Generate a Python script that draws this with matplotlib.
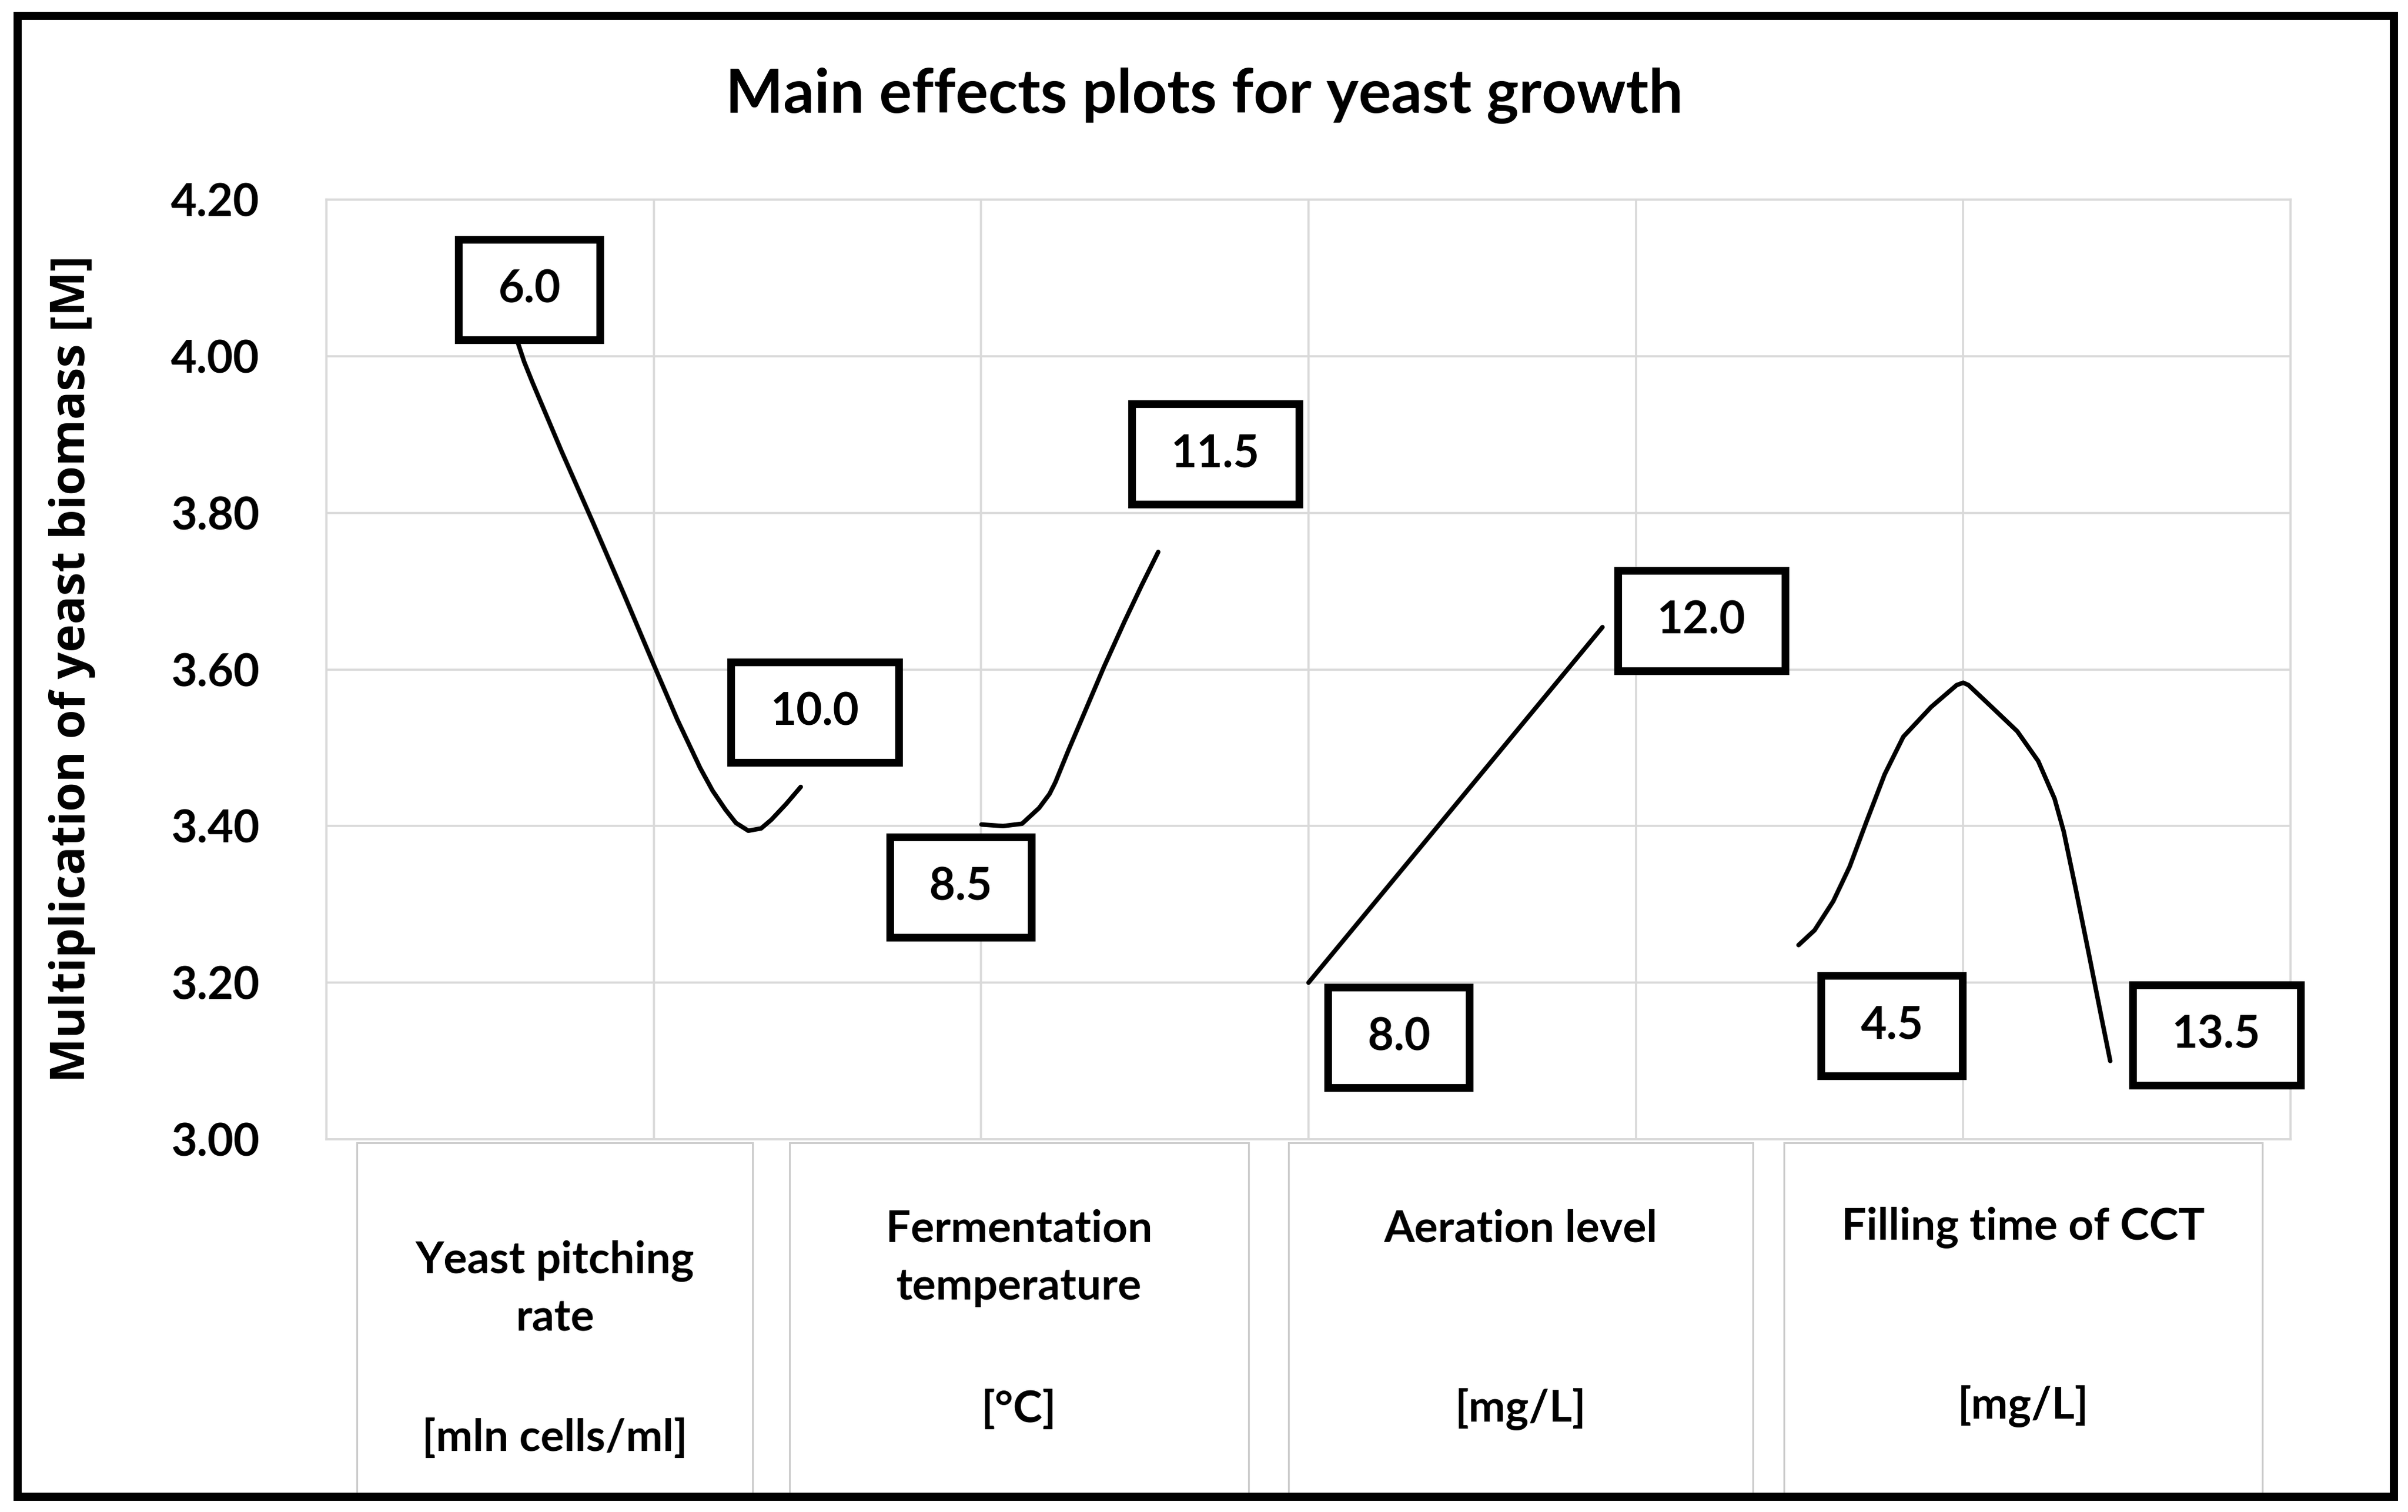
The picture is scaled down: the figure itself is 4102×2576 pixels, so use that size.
import matplotlib
matplotlib.use("Agg")
import matplotlib.pyplot as plt
from matplotlib.patches import Rectangle
from matplotlib.path import Path

# ---- data ----
pitch_x = [0.585, 0.604, 0.629, 0.719, 0.816, 0.911, 1.000, 1.072, 1.142, 1.180,
           1.219, 1.251, 1.289, 1.328, 1.359, 1.404, 1.449]
pitch_y = [4.017, 3.993, 3.967, 3.878, 3.786, 3.694, 3.606, 3.536, 3.474, 3.445,
           3.421, 3.404, 3.394, 3.397, 3.408, 3.428, 3.450]

temp_x = [2.001, 2.067, 2.125, 2.151, 2.177, 2.209, 2.227, 2.266, 2.317, 2.375,
          2.439, 2.490, 2.541]
temp_y = [3.402, 3.400, 3.403, 3.413, 3.423, 3.441, 3.456, 3.496, 3.546, 3.603,
          3.662, 3.707, 3.750]

aer_x = [3.000, 3.898]
aer_y = [3.200, 3.654]

fill_x = [4.497, 4.546, 4.603, 4.653, 4.703, 4.760, 4.817, 4.902, 4.980, 5.000,
          5.016, 5.087, 5.165, 5.229, 5.279, 5.307, 5.343, 5.385, 5.421, 5.449]
fill_y = [3.248, 3.267, 3.304, 3.348, 3.404, 3.466, 3.514, 3.552, 3.580, 3.583,
          3.580, 3.552, 3.521, 3.483, 3.435, 3.393, 3.321, 3.234, 3.158, 3.100]

level_text = ['6.0', '10.0', '8.5', '11.5', '8.0', '12.0', '4.5', '13.5']
level_x = [0.620, 1.492, 1.938, 2.716, 3.276, 4.201, 4.782, 5.774]
level_y = [4.085, 3.545, 3.322, 3.875, 3.130, 3.662, 3.145, 3.133]

y_ticks = [3.00, 3.20, 3.40, 3.60, 3.80, 4.00, 4.20]

factor_names = [['Yeast pitching', 'rate'], ['Fermentation', 'temperature'],
                ['Aeration level'], ['Filling time of CCT']]
factor_units = ['[mln cells/ml]', '[°C]', '[mg/L]', '[mg/L]']

W, H = 4102, 2576
FONT = 'Lato'
GRID = '#d9d9d9'


def fx(px):
    return px / W


def fy(py):
    return 1 - py / H


def label_box(x0, y0, width, height, mutation_size):
    # rectangle with wider side padding than top/bottom padding
    padx = 0.88 * mutation_size
    cy = y0 + height / 2
    half_h = 1.12 * mutation_size
    l, r = x0 - padx, x0 + width + padx
    b, t = cy - half_h, cy + half_h
    return Path([(l, b), (r, b), (r, t), (l, t), (l, b)],
                [Path.MOVETO, Path.LINETO, Path.LINETO, Path.LINETO, Path.CLOSEPOLY])


fig = plt.figure(figsize=(W / 100, H / 100), dpi=100)
ax = fig.add_axes([fx(556), fy(1941), fx(3902 - 556), (1941 - 340) / H])

for xs, ys in [(pitch_x, pitch_y), (temp_x, temp_y), (aer_x, aer_y), (fill_x, fill_y)]:
    ax.plot(xs, ys, color='black', linewidth=5.5, solid_capstyle='round',
            solid_joinstyle='round', zorder=3)

for t, x, y in zip(level_text, level_x, level_y):
    ax.text(x, y, t, ha='center', va='center', fontsize=55, fontweight='bold',
            family=FONT, zorder=5,
            bbox=dict(boxstyle=label_box, facecolor='white', edgecolor='black',
                      linewidth=9.5))

ax.set_xlim(0, 6)
ax.set_ylim(3.0, 4.2)
ax.set_xticks(range(7))
ax.set_xticklabels([])
ax.set_yticks(y_ticks)
ax.set_yticklabels([f'{v:.2f}' for v in y_ticks], fontsize=55, fontweight='bold',
                   family=FONT)
ax.tick_params(length=0, pad=82)
ax.grid(True, color=GRID, linewidth=2.6)
ax.set_axisbelow(True)
for s in ax.spines.values():
    s.set_color(GRID)
    s.set_linewidth(2.6)

# title and y label
fig.text(0.5, fy(192), 'Main effects plots for yeast growth', ha='center',
         va='baseline', fontsize=75, fontweight='bold', family=FONT)
fig.text(fx(123), fy(1140), 'Multiplication of yeast biomass [M]', rotation=90,
         ha='center', va='center', fontsize=58, fontweight='bold', family='Open Sans')

# factor cells under the plot
cell_left = [608, 1345, 2195, 3039]
cell_right = [1282, 2127, 2986, 3854]
name_base = [2169, 2116, 2116, 2112]
unit_base = [2472, 2423, 2422, 2417]
for i in range(4):
    fig.patches.append(Rectangle((fx(cell_left[i]), fy(2545)),
                                 fx(cell_right[i] - cell_left[i]), (2545 - 1947) / H,
                                 transform=fig.transFigure, facecolor='white',
                                 edgecolor='#cccccc', linewidth=2.2))
    cx = fx((cell_left[i] + cell_right[i]) / 2)
    for j, line in enumerate(factor_names[i]):
        fig.text(cx, fy(name_base[i] + 98 * j), line, ha='center', va='baseline',
                 fontsize=54, fontweight='bold', family=FONT)
    fig.text(cx, fy(unit_base[i]), factor_units[i], ha='center', va='baseline',
             fontsize=54, fontweight='bold', family=FONT)

# outer frame
fig.patches.append(Rectangle((fx(30), fy(2550)), fx(4078 - 30), (2550 - 27) / H,
                             transform=fig.transFigure, fill=False,
                             edgecolor='black', linewidth=10))

fig.savefig('out.png', dpi=100, facecolor='white')
